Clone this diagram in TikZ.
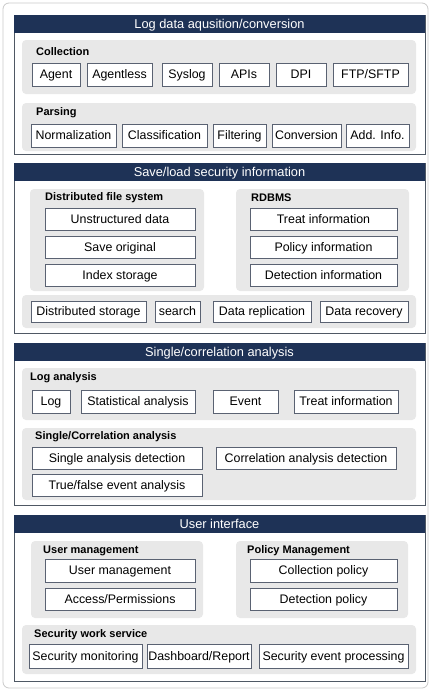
\documentclass[tikz,border=0pt]{standalone}
\usepackage{fontspec}
\setmainfont{Liberation Sans}
\definecolor{navy}{HTML}{1E3256}
\definecolor{pline}{HTML}{4F5864}
\definecolor{gfill}{HTML}{E8E8E8}
\definecolor{bline}{HTML}{5A6272}
\definecolor{oline}{HTML}{CACACA}
\newcommand\mybox[7][ibx]{%
  \node[#1, minimum width={(#5-#3)*1pt}, minimum height={(#6-#4)*1pt}] (#2) at ({(#3+#5)/2},{(#4+#6)/2}) {#7};}
\begin{document}
\begin{tikzpicture}[x=1pt,y=-1pt,
  ibx/.style={draw=bline, line width=0.8pt, fill=white, inner sep=0pt, outer sep=0pt,
    text height=9pt, text depth=1pt, font=\fontsize{12.4}{14}\selectfont},
  gbx/.style={fill=gfill, rounded corners=4pt, inner sep=0pt, outer sep=0pt},
  panel/.style={draw=pline, line width=0.8pt, fill=white, inner sep=0pt, outer sep=0pt},
  hdr/.style={fill=navy, text=white, inner sep=0pt, outer sep=0pt,
    text height=9.2pt, text depth=1pt, font=\fontsize{12.8}{14}\selectfont},
  lbl/.style={anchor=west, inner sep=0pt, font=\bfseries\fontsize{11}{13}\selectfont}]
\useasboundingbox (0,0) rectangle (430,691);
\draw[oline, line width=0.8pt, rounded corners=6pt, fill=white] (3,3) rectangle (428,688);

% ---------- Panel 1 ----------
\mybox[panel]{p1}{14}{15}{425}{154}{}
\mybox[hdr]{h1}{14.4}{15.4}{424.6}{33}{Log data aqusition/conversion}
\mybox[gbx]{g11}{22}{40}{416}{94}{}
\node[lbl] (l11) at (36,52) {Collection};
\mybox{a1}{32}{63}{80}{86}{Agent}
\mybox{a2}{87}{63}{152}{86}{Agentless}
\mybox{a3}{162}{63}{212}{86}{Syslog}
\mybox{a4}{219}{63}{269}{86}{APIs}
\mybox{a5}{276}{63}{326}{86}{DPI}
\mybox{a6}{333}{63}{408}{86}{FTP/SFTP}
\mybox[gbx]{g12}{22}{103}{416}{151}{}
\node[lbl] (l12) at (36,113) {Parsing};
\mybox{b1}{31}{124}{116}{147}{Normalization}
\mybox{b2}{122}{124}{207}{147}{Classification}
\mybox{b3}{213}{124}{266}{147}{Filtering}
\mybox{b4}{272}{124}{341}{147}{Conversion}
\mybox{b5}{346}{124}{409}{147}{Add. Info.}

% ---------- Panel 2 ----------
\mybox[panel]{p2}{14}{163}{425}{333}{}
\mybox[hdr]{h2}{14.4}{163.4}{424.6}{181}{Save/load security information}
\mybox[gbx]{g21}{30}{189}{204}{291}{}
\node[lbl] (l21) at (45,198) {Distributed file system};
\mybox{c1}{45}{208}{195}{230}{Unstructured data}
\mybox{c2}{45}{236}{195}{258}{Save original}
\mybox{c3}{45}{264}{195}{286}{Index storage}
\mybox[gbx]{g22}{236}{189}{409}{291}{}
\node[lbl] (l22) at (251,198) {RDBMS};
\mybox{d1}{250}{208}{397}{230}{Treat information}
\mybox{d2}{250}{236}{397}{258}{Policy information}
\mybox{d3}{250}{264}{397}{286}{Detection information}
\mybox[gbx]{g23}{22}{295}{416}{328}{}
\mybox{e1}{31}{301}{146}{322}{Distributed storage}
\mybox{e2}{155}{301}{200}{322}{search}
\mybox{e3}{213}{301}{311}{322}{Data replication}
\mybox{e4}{320}{301}{408}{322}{Data recovery}

% ---------- Panel 3 ----------
\mybox[panel]{p3}{14}{343}{425}{505}{}
\mybox[hdr]{h3}{14.4}{343.4}{424.6}{361}{Single/correlation analysis}
\mybox[gbx]{g31}{22}{368}{416}{420}{}
\node[lbl] (l31) at (30,378) {Log analysis};
\mybox{f1}{32}{390}{70}{413}{Log}
\mybox{f2}{81}{390}{195}{413}{Statistical analysis}
\mybox{f3}{213}{390}{278}{413}{Event}
\mybox{f4}{294}{390}{398}{413}{Treat information}
\mybox[gbx]{g32}{22}{428}{416}{500}{}
\node[lbl] (l32) at (35,437) {Single/Correlation analysis};
\mybox{k1}{32}{447}{202}{469}{Single analysis detection}
\mybox{k2}{216}{447}{396}{469}{Correlation analysis detection}
\mybox{k3}{32}{474}{202}{496}{True/false event analysis}

% ---------- Panel 4 ----------
\mybox[panel]{p4}{14}{515}{425}{681}{}
\mybox[hdr]{h4}{14.4}{515.4}{424.6}{533}{User interface}
\mybox[gbx]{g41}{31}{541}{203}{618}{}
\node[lbl] (l41) at (43,551) {User management};
\mybox{m1}{45}{559}{195}{582}{User management}
\mybox{m2}{45}{588}{195}{610}{Access/Permissions}
\mybox[gbx]{g42}{236}{541}{408}{618}{}
\node[lbl] (l42) at (247,551) {Policy Management};
\mybox{n1}{250}{559}{397}{582}{Collection policy}
\mybox{n2}{250}{588}{397}{610}{Detection policy}
\mybox[gbx]{g43}{22}{625}{416}{674}{}
\node[lbl] (l43) at (34,635) {Security work service};
\mybox{s1}{29}{644}{142}{668}{Security monitoring}
\mybox{s2}{147}{644}{251}{668}{Dashboard/Report}
\mybox{s3}{259}{644}{408}{668}{Security event processing}
\end{tikzpicture}
\end{document}
